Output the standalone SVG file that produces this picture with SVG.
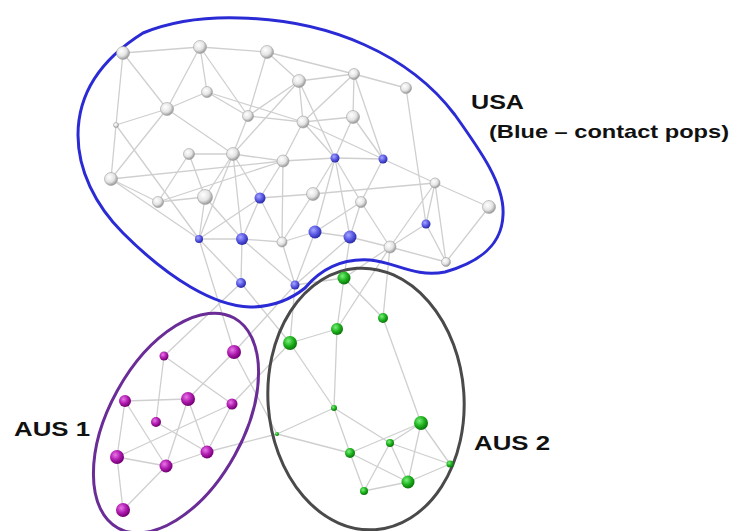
<svg xmlns="http://www.w3.org/2000/svg" width="734" height="531" viewBox="0 0 734 531">
<defs>
<radialGradient id="gw" cx="38%" cy="35%" r="65%"><stop offset="0" stop-color="#ffffff"/><stop offset="0.6" stop-color="#e4e4e4"/><stop offset="1" stop-color="#9a9a9a"/></radialGradient>
<radialGradient id="gb" cx="38%" cy="35%" r="65%"><stop offset="0" stop-color="#a8a8ff"/><stop offset="0.55" stop-color="#5a5ae6"/><stop offset="1" stop-color="#2a2aa8"/></radialGradient>
<radialGradient id="gg" cx="38%" cy="35%" r="65%"><stop offset="0" stop-color="#7cf07c"/><stop offset="0.55" stop-color="#1fb41f"/><stop offset="1" stop-color="#0a760a"/></radialGradient>
<radialGradient id="gp" cx="38%" cy="35%" r="65%"><stop offset="0" stop-color="#e878e8"/><stop offset="0.55" stop-color="#b01cb0"/><stop offset="1" stop-color="#720072"/></radialGradient>
</defs>
<style>
.e line{stroke:#cfcfcf;stroke-width:1.3;fill:none}
.w{fill:url(#gw);stroke:#a0a0a0;stroke-width:0.6}
.b{fill:url(#gb)}
.gn{fill:url(#gg)}
.p{fill:url(#gp)}
.lbl{font-family:"Liberation Sans",Arial,sans-serif;font-weight:bold;fill:#111}
</style>
<rect width="734" height="531" fill="#ffffff"/>
<g id="connectors" class="e">
<line x1="123" y1="53" x2="200" y2="47"/>
<line x1="200" y1="47" x2="267" y2="52"/>
<line x1="267" y1="52" x2="354" y2="74"/>
<line x1="123" y1="53" x2="167" y2="109"/>
<line x1="123" y1="53" x2="116" y2="125"/>
<line x1="116" y1="125" x2="111" y2="179"/>
<line x1="200" y1="47" x2="167" y2="109"/>
<line x1="200" y1="47" x2="248" y2="116"/>
<line x1="207" y1="92" x2="167" y2="109"/>
<line x1="167" y1="109" x2="116" y2="125"/>
<line x1="167" y1="109" x2="233" y2="154"/>
<line x1="167" y1="109" x2="111" y2="179"/>
<line x1="207" y1="92" x2="303" y2="122"/>
<line x1="299" y1="81" x2="248" y2="116"/>
<line x1="267" y1="52" x2="248" y2="116"/>
<line x1="267" y1="52" x2="299" y2="81"/>
<line x1="299" y1="81" x2="303" y2="122"/>
<line x1="248" y1="116" x2="303" y2="122"/>
<line x1="299" y1="81" x2="233" y2="154"/>
<line x1="189" y1="154" x2="233" y2="154"/>
<line x1="299" y1="81" x2="354" y2="74"/>
<line x1="354" y1="74" x2="406" y2="88"/>
<line x1="354" y1="74" x2="303" y2="122"/>
<line x1="299" y1="81" x2="335" y2="158"/>
<line x1="303" y1="122" x2="335" y2="158"/>
<line x1="353" y1="117" x2="335" y2="158"/>
<line x1="353" y1="117" x2="383" y2="159"/>
<line x1="354" y1="74" x2="353" y2="117"/>
<line x1="354" y1="74" x2="383" y2="159"/>
<line x1="406" y1="88" x2="426" y2="224"/>
<line x1="303" y1="122" x2="353" y2="117"/>
<line x1="303" y1="122" x2="383" y2="159"/>
<line x1="303" y1="122" x2="283" y2="161"/>
<line x1="283" y1="161" x2="335" y2="158"/>
<line x1="116" y1="125" x2="199" y2="239"/>
<line x1="233" y1="154" x2="283" y2="161"/>
<line x1="233" y1="154" x2="260" y2="198"/>
<line x1="233" y1="154" x2="242" y2="239"/>
<line x1="233" y1="154" x2="199" y2="239"/>
<line x1="283" y1="161" x2="158" y2="202"/>
<line x1="283" y1="161" x2="260" y2="198"/>
<line x1="283" y1="161" x2="282" y2="242"/>
<line x1="260" y1="198" x2="313" y2="194"/>
<line x1="260" y1="198" x2="242" y2="239"/>
<line x1="260" y1="198" x2="282" y2="242"/>
<line x1="205" y1="197" x2="242" y2="239"/>
<line x1="205" y1="197" x2="199" y2="239"/>
<line x1="199" y1="239" x2="242" y2="239"/>
<line x1="242" y1="239" x2="282" y2="242"/>
<line x1="282" y1="242" x2="315" y2="232"/>
<line x1="335" y1="158" x2="383" y2="159"/>
<line x1="335" y1="158" x2="313" y2="194"/>
<line x1="335" y1="158" x2="361" y2="202"/>
<line x1="335" y1="158" x2="315" y2="232"/>
<line x1="335" y1="158" x2="350" y2="237"/>
<line x1="383" y1="159" x2="435" y2="183"/>
<line x1="383" y1="159" x2="361" y2="202"/>
<line x1="313" y1="194" x2="435" y2="183"/>
<line x1="361" y1="202" x2="315" y2="232"/>
<line x1="361" y1="202" x2="350" y2="237"/>
<line x1="361" y1="202" x2="390" y2="247"/>
<line x1="435" y1="183" x2="426" y2="224"/>
<line x1="435" y1="183" x2="390" y2="247"/>
<line x1="435" y1="183" x2="489" y2="207"/>
<line x1="435" y1="183" x2="446" y2="262"/>
<line x1="426" y1="224" x2="390" y2="247"/>
<line x1="315" y1="232" x2="350" y2="237"/>
<line x1="111" y1="179" x2="158" y2="202"/>
<line x1="111" y1="179" x2="199" y2="239"/>
<line x1="111" y1="179" x2="283" y2="161"/>
<line x1="158" y1="202" x2="189" y2="154"/>
<line x1="158" y1="202" x2="205" y2="197"/>
<line x1="189" y1="154" x2="205" y2="197"/>
<line x1="205" y1="197" x2="233" y2="154"/>
<line x1="260" y1="198" x2="199" y2="239"/>
<line x1="199" y1="239" x2="241" y2="283"/>
<line x1="242" y1="239" x2="241" y2="283"/>
<line x1="242" y1="239" x2="295" y2="285"/>
<line x1="282" y1="242" x2="295" y2="285"/>
<line x1="315" y1="232" x2="295" y2="285"/>
<line x1="350" y1="237" x2="295" y2="285"/>
<line x1="390" y1="247" x2="446" y2="262"/>
<line x1="426" y1="224" x2="446" y2="262"/>
<line x1="489" y1="207" x2="446" y2="262"/>
<line x1="350" y1="237" x2="390" y2="247"/>
<line x1="248" y1="116" x2="233" y2="154"/>
<line x1="207" y1="92" x2="248" y2="116"/>
<line x1="200" y1="47" x2="207" y2="92"/>
<line x1="313" y1="194" x2="282" y2="242"/>
<line x1="295" y1="285" x2="344" y2="278"/>
<line x1="295" y1="285" x2="290" y2="343"/>
<line x1="350" y1="237" x2="344" y2="278"/>
<line x1="390" y1="247" x2="344" y2="278"/>
<line x1="390" y1="247" x2="337" y2="329"/>
<line x1="390" y1="247" x2="383" y2="318"/>
<line x1="241" y1="283" x2="290" y2="343"/>
<line x1="164" y1="356" x2="241" y2="283"/>
<line x1="234" y1="352" x2="199" y2="239"/>
<line x1="234" y1="352" x2="295" y2="285"/>
<line x1="234" y1="352" x2="277" y2="434"/>
<line x1="207" y1="452" x2="277" y2="434"/>
<line x1="232" y1="404" x2="290" y2="343"/>
<line x1="344" y1="278" x2="337" y2="329"/>
<line x1="344" y1="278" x2="383" y2="318"/>
<line x1="337" y1="329" x2="290" y2="343"/>
<line x1="337" y1="329" x2="334" y2="408"/>
<line x1="290" y1="343" x2="334" y2="408"/>
<line x1="383" y1="318" x2="421" y2="423"/>
<line x1="334" y1="408" x2="277" y2="434"/>
<line x1="334" y1="408" x2="350" y2="453"/>
<line x1="334" y1="408" x2="390" y2="443"/>
<line x1="277" y1="434" x2="350" y2="453"/>
<line x1="421" y1="423" x2="350" y2="453"/>
<line x1="421" y1="423" x2="390" y2="443"/>
<line x1="421" y1="423" x2="408" y2="482"/>
<line x1="421" y1="423" x2="450" y2="464"/>
<line x1="390" y1="443" x2="364" y2="491"/>
<line x1="390" y1="443" x2="408" y2="482"/>
<line x1="390" y1="443" x2="450" y2="464"/>
<line x1="350" y1="453" x2="408" y2="482"/>
<line x1="350" y1="453" x2="364" y2="491"/>
<line x1="364" y1="491" x2="408" y2="482"/>
<line x1="408" y1="482" x2="450" y2="464"/>
<line x1="164" y1="356" x2="156" y2="422"/>
<line x1="164" y1="356" x2="232" y2="404"/>
<line x1="234" y1="352" x2="188" y2="399"/>
<line x1="125" y1="401" x2="188" y2="399"/>
<line x1="125" y1="401" x2="117" y2="457"/>
<line x1="125" y1="401" x2="166" y2="466"/>
<line x1="156" y1="422" x2="207" y2="452"/>
<line x1="188" y1="399" x2="166" y2="466"/>
<line x1="188" y1="399" x2="207" y2="452"/>
<line x1="232" y1="404" x2="117" y2="457"/>
<line x1="232" y1="404" x2="207" y2="452"/>
<line x1="117" y1="457" x2="166" y2="466"/>
<line x1="117" y1="457" x2="123" y2="510"/>
<line x1="166" y1="466" x2="207" y2="452"/>
<line x1="166" y1="466" x2="123" y2="510"/>
</g>
<g id="usa-outline"><path d="M250,307 C215,306 170,280 123,233 C95,205 78,170 78,135 C78,95 100,60 143,33 C175,20 210,17 240,18 C330,20 410,55 455,115 C480,150 505,185 503,215 C502,245 480,262 445,272 C415,278 395,262 370,260 C340,258 320,270 305,288 C290,300 270,307 250,307 Z" fill="none" stroke="#2b2bd6" stroke-width="3"/></g>
<g id="aus1-outline"><ellipse cx="176" cy="423" rx="67" ry="120" transform="rotate(29 176 423)" fill="none" stroke="#6a2c96" stroke-width="3"/></g>
<g id="aus2-outline"><ellipse cx="366" cy="399" rx="98" ry="131" transform="rotate(-4 366 399)" fill="none" stroke="#4a4a4a" stroke-width="3"/></g>
<g id="usa-nodes">
<g id="u1"><circle class="w" cx="123" cy="53" r="6.5"/></g>
<g id="u2"><circle class="w" cx="200" cy="47" r="6.5"/></g>
<g id="u3"><circle class="w" cx="267" cy="52" r="6.5"/></g>
<g id="u4"><circle class="w" cx="299" cy="81" r="6.5"/></g>
<g id="u5"><circle class="w" cx="354" cy="74" r="5.5"/></g>
<g id="u6"><circle class="w" cx="406" cy="88" r="5.5"/></g>
<g id="u7"><circle class="w" cx="207" cy="92" r="5.5"/></g>
<g id="u8"><circle class="w" cx="167" cy="109" r="6.5"/></g>
<g id="u9"><circle class="w" cx="248" cy="116" r="5.5"/></g>
<g id="u10"><circle class="w" cx="303" cy="122" r="6"/></g>
<g id="u11"><circle class="w" cx="353" cy="117" r="6.5"/></g>
<g id="u12"><circle class="w" cx="116" cy="125" r="2.5"/></g>
<g id="u13"><circle class="w" cx="189" cy="154" r="5.5"/></g>
<g id="u14"><circle class="w" cx="233" cy="154" r="6.5"/></g>
<g id="u15"><circle class="w" cx="283" cy="161" r="6"/></g>
<g id="u16"><circle class="b" cx="335" cy="158" r="4.5"/></g>
<g id="u17"><circle class="b" cx="383" cy="159" r="4.5"/></g>
<g id="u18"><circle class="w" cx="111" cy="179" r="6.5"/></g>
<g id="u19"><circle class="w" cx="158" cy="202" r="5.5"/></g>
<g id="u20"><circle class="w" cx="205" cy="197" r="7.5"/></g>
<g id="u21"><circle class="b" cx="260" cy="198" r="5.5"/></g>
<g id="u22"><circle class="w" cx="313" cy="194" r="6.5"/></g>
<g id="u23"><circle class="w" cx="361" cy="202" r="5.5"/></g>
<g id="u24"><circle class="w" cx="435" cy="183" r="5"/></g>
<g id="u25"><circle class="w" cx="489" cy="207" r="6.5"/></g>
<g id="u26"><circle class="b" cx="199" cy="239" r="4"/></g>
<g id="u27"><circle class="b" cx="242" cy="239" r="6"/></g>
<g id="u28"><circle class="w" cx="282" cy="242" r="5"/></g>
<g id="u29"><circle class="b" cx="315" cy="232" r="6.5"/></g>
<g id="u30"><circle class="b" cx="350" cy="237" r="6.5"/></g>
<g id="u31"><circle class="b" cx="426" cy="224" r="4.5"/></g>
<g id="u32"><circle class="w" cx="390" cy="247" r="6"/></g>
<g id="u33"><circle class="w" cx="446" cy="262" r="4.5"/></g>
<g id="u34"><circle class="b" cx="241" cy="283" r="5"/></g>
<g id="u35"><circle class="b" cx="295" cy="285" r="4.5"/></g>
</g>
<g id="aus2-nodes">
<g id="g1"><circle class="gn" cx="344" cy="278" r="6.5"/></g>
<g id="g2"><circle class="gn" cx="383" cy="318" r="5"/></g>
<g id="g3"><circle class="gn" cx="337" cy="329" r="6"/></g>
<g id="g4"><circle class="gn" cx="290" cy="343" r="7"/></g>
<g id="g5"><circle class="gn" cx="334" cy="408" r="3"/></g>
<g id="g6"><circle class="gn" cx="277" cy="434" r="2"/></g>
<g id="g7"><circle class="gn" cx="421" cy="423" r="7"/></g>
<g id="g8"><circle class="gn" cx="390" cy="443" r="4"/></g>
<g id="g9"><circle class="gn" cx="350" cy="453" r="5"/></g>
<g id="g10"><circle class="gn" cx="450" cy="464" r="3.5"/></g>
<g id="g11"><circle class="gn" cx="408" cy="482" r="6.5"/></g>
<g id="g12"><circle class="gn" cx="364" cy="491" r="4"/></g>
</g>
<g id="aus1-nodes">
<g id="p1"><circle class="p" cx="164" cy="356" r="4.5"/></g>
<g id="p2"><circle class="p" cx="234" cy="352" r="7"/></g>
<g id="p3"><circle class="p" cx="125" cy="401" r="6"/></g>
<g id="p4"><circle class="p" cx="188" cy="399" r="7"/></g>
<g id="p5"><circle class="p" cx="232" cy="404" r="5.5"/></g>
<g id="p6"><circle class="p" cx="156" cy="422" r="5"/></g>
<g id="p7"><circle class="p" cx="117" cy="457" r="7"/></g>
<g id="p8"><circle class="p" cx="207" cy="452" r="6.5"/></g>
<g id="p9"><circle class="p" cx="166" cy="466" r="6.5"/></g>
<g id="p10"><circle class="p" cx="123" cy="510" r="7"/></g>
</g>
<g id="labels">
<text class="lbl" x="471" y="109" font-size="21" textLength="53" lengthAdjust="spacingAndGlyphs">USA</text>
<text class="lbl" x="489" y="138" font-size="19" textLength="240" lengthAdjust="spacingAndGlyphs">(Blue – contact pops)</text>
<text class="lbl" x="14" y="436" font-size="21" textLength="76" lengthAdjust="spacingAndGlyphs">AUS 1</text>
<text class="lbl" x="474" y="450" font-size="21" textLength="76" lengthAdjust="spacingAndGlyphs">AUS 2</text>
</g>
</svg>
